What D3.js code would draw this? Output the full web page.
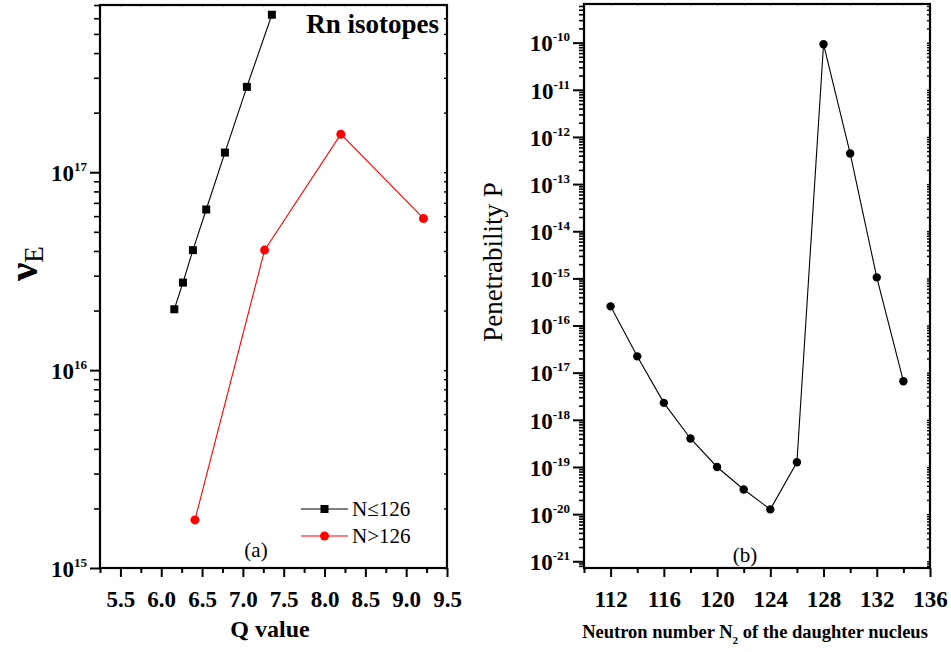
<!DOCTYPE html>
<html><head><meta charset="utf-8">
<script src="https://cdn.jsdelivr.net/npm/d3@7"></script>
<style>
html,body{margin:0;padding:0;background:#fff;}
svg text{font-family:"Liberation Serif","Times New Roman",serif !important;}
</style></head>
<body>
<svg id="chart" width="951" height="652"></svg>
<script>
// ---- Panel (a) data ----
const qLow = [6.16, 6.266, 6.388, 6.551, 6.78, 7.049, 7.355];
const vLow = [2.03e16, 2.77e16, 4.04e16, 6.48e16, 1.257e17, 2.70e17, 6.25e17];
const qHigh = [6.413, 7.266, 8.2, 9.212];
const vHigh = [1.75e15, 4.04e16, 1.556e17, 5.84e16];
const qTicks = [5.5, 6.0, 6.5, 7.0, 7.5, 8.0, 8.5, 9.0, 9.5];
const qMinor = [5.25, 5.75, 6.25, 6.75, 7.25, 7.75, 8.25, 8.75, 9.25];
const vExps = [15, 16, 17];
const legendLabels = ["N\u2264126", "N>126"];

// ---- Panel (b) data ----
const nNeutron = [112, 114, 116, 118, 120, 122, 124, 126, 128, 130, 132, 134];
const pen = [2.55e-16, 2.22e-17, 2.29e-18, 4.02e-19, 1.0e-19, 3.33e-20, 1.26e-20, 1.26e-19, 9.25e-11, 4.47e-13, 1.05e-15, 6.6e-18];
const nTicks = [112, 116, 120, 124, 128, 132, 136];
const nMinor = [110, 114, 118, 122, 126, 130, 134];
const pExps = [-21, -20, -19, -18, -17, -16, -15, -14, -13, -12, -11, -10];

const svg = d3.select("#chart");
const SERIF = '"Liberation Serif","Times New Roman",serif';

function logMinors(domain) {
  const out = [];
  const lo = Math.floor(Math.log10(domain[0])), hi = Math.ceil(Math.log10(domain[1]));
  for (let e = lo; e <= hi; e++) for (let m = 2; m <= 9; m++) {
    const v = m * Math.pow(10, e);
    if (v >= domain[0] && v <= domain[1]) out.push(v);
  }
  return out;
}

function drawPanel(cfg) {
  const g = svg.append("g");
  const x = cfg.x, y = cfg.y;
  const [x0, x1] = x.range(), [y0, y1] = y.range();
  g.append("g").attr("transform", `translate(${x0},0)`)
    .call(d3.axisLeft(y).tickValues(logMinors(y.domain())).tickSize(cfg.yMinorLen).tickFormat(""))
    .call(a => a.select(".domain").remove())
    .selectAll("line").attr("stroke-width", 1.6);
  const yMaj = g.append("g").attr("transform", `translate(${x0},0)`)
    .call(d3.axisLeft(y).tickValues(cfg.yExps.map(e => Math.pow(10, e))).tickSize(cfg.yMajorLen).tickFormat(""))
    .call(a => a.select(".domain").remove());
  yMaj.selectAll("line").attr("stroke-width", 2);
  cfg.yExps.forEach(e => {
    const t = g.append("text")
      .attr("x", x0 - cfg.yMajorLen - 3).attr("y", y(Math.pow(10, e)))
      .attr("dy", "0.38em").attr("text-anchor", "end")
      .style("font-family", SERIF)
      .attr("font-weight", "bold").attr("font-size", 23);
    t.append("tspan").text("10");
    t.append("tspan").attr("font-size", 13).attr("dy", -10).text(String(e));
  });
  g.append("g").attr("transform", `translate(${x1},0)`)
    .call(d3.axisRight(y).tickValues(logMinors(y.domain()).concat(cfg.yExps.map(e => Math.pow(10, e)))).tickSize(-3).tickFormat(""))
    .call(a => a.select(".domain").remove())
    .selectAll("line").attr("stroke-width", 1.4);
  g.append("g").attr("transform", `translate(0,${y1})`)
    .call(d3.axisTop(x).tickValues(cfg.xTicks.concat(cfg.xMinor)).tickSize(-2).tickFormat(""))
    .call(a => a.select(".domain").remove())
    .selectAll("line").attr("stroke", "#aaa");
  g.append("g").attr("transform", `translate(0,${y0})`)
    .call(d3.axisBottom(x).tickValues(cfg.xMinor).tickSize(5).tickFormat(""))
    .call(a => a.select(".domain").remove())
    .selectAll("line").attr("stroke-width", 2);
  const xb = g.append("g").attr("transform", `translate(0,${y0})`)
    .call(d3.axisBottom(x).tickValues(cfg.xTicks).tickSize(9).tickPadding(14).tickFormat(cfg.xFmt))
    .call(a => a.select(".domain").remove());
  xb.selectAll("line").attr("stroke-width", 2);
  xb.selectAll("text").style("font-family", SERIF)
    .attr("font-weight", "bold").attr("font-size", cfg.xFont).attr("fill", "#000");
  g.append("rect").attr("x", x0).attr("y", y1).attr("width", x1 - x0).attr("height", y0 - y1)
    .attr("fill", "none").attr("stroke", "#000").attr("stroke-width", 2.2);
  return g;
}

// ===== Panel (a) =====
const xa = d3.scaleLinear().domain([5.25, 9.5]).range([100, 447]);
const ya = d3.scaleLog().domain([1e15, 7e17]).range([568, 5]);
const ga = drawPanel({x: xa, y: ya, yExps: vExps, xTicks: qTicks, xMinor: qMinor,
  xFmt: d3.format(".1f"), yMajorLen: 10, yMinorLen: 6, xFont: 23});

const lineA = d3.line().x(d => xa(d[0])).y(d => ya(d[1]));
const lowPts = qLow.map((q, i) => [q, vLow[i]]);
const highPts = qHigh.map((q, i) => [q, vHigh[i]]);
ga.append("path").attr("d", lineA(lowPts)).attr("fill", "none").attr("stroke", "#000").attr("stroke-width", 1.1);
ga.selectAll(".sq").data(lowPts).enter().append("rect")
  .attr("x", d => xa(d[0]) - 4).attr("y", d => ya(d[1]) - 4).attr("width", 8).attr("height", 8).attr("fill", "#000");
ga.append("path").attr("d", lineA(highPts)).attr("fill", "none").attr("stroke", "#f00").attr("stroke-width", 1.1);
ga.selectAll(".rc").data(highPts).enter().append("circle")
  .attr("cx", d => xa(d[0])).attr("cy", d => ya(d[1])).attr("r", 4.5).attr("fill", "#f00");

ga.append("text").attr("x", 439).attr("y", 33).attr("text-anchor", "end")
  .attr("font-weight", "bold").attr("font-size", 27).text("Rn isotopes");

const legY = [509, 536];
const legCol = ["#000", "#f00"];
legendLabels.forEach((lab, i) => {
  ga.append("line").attr("x1", 301).attr("x2", 348).attr("y1", legY[i]).attr("y2", legY[i])
    .attr("stroke", legCol[i]).attr("stroke-width", 1.1);
  if (i === 0) ga.append("rect").attr("x", 320.5).attr("y", legY[i] - 4).attr("width", 8).attr("height", 8).attr("fill", "#000");
  else ga.append("circle").attr("cx", 324.5).attr("cy", legY[i]).attr("r", 4.5).attr("fill", "#f00");
  ga.append("text").attr("x", 352).attr("y", legY[i] + 7).attr("font-size", 21).text(lab);
});
ga.append("text").attr("x", 256).attr("y", 557).attr("text-anchor", "middle").attr("font-size", 21).text("(a)");

ga.append("text").attr("x", 270).attr("y", 637).attr("text-anchor", "middle")
  .attr("font-weight", "bold").attr("font-size", 24).text("Q value");

const yl = ga.append("text").attr("transform", "translate(37,281) rotate(-90)")
  .attr("font-size", 41).attr("font-weight", "bold");
yl.append("tspan").text("\u03bd");
yl.append("tspan").attr("font-size", 27).attr("font-weight", "normal").attr("dy", 6).text("E");

// ===== Panel (b) =====
const xb = d3.scaleLinear().domain([110, 136]).range([584, 930]);
const yb = d3.scaleLog().domain([7.2e-22, 6.6e-10]).range([568, 4]);
const gb = drawPanel({x: xb, y: yb, yExps: pExps, xTicks: nTicks, xMinor: nMinor,
  xFmt: d3.format("d"), yMajorLen: 11, yMinorLen: 5, xFont: 23});

const pPts = nNeutron.map((n, i) => [n, pen[i]]);
const lineB = d3.line().x(d => xb(d[0])).y(d => yb(d[1]));
gb.append("path").attr("d", lineB(pPts)).attr("fill", "none").attr("stroke", "#000").attr("stroke-width", 1.1);
gb.selectAll(".bc").data(pPts).enter().append("circle")
  .attr("cx", d => xb(d[0])).attr("cy", d => yb(d[1])).attr("r", 4.2).attr("fill", "#000");

gb.append("text").attr("x", 745).attr("y", 562).attr("text-anchor", "middle").attr("font-size", 21).text("(b)");

gb.append("text").attr("transform", "translate(502,262) rotate(-90)").attr("text-anchor", "middle")
  .attr("font-size", 27).text("Penetrability P");

const xl = gb.append("text").attr("x", 755).attr("y", 638).attr("text-anchor", "middle")
  .attr("font-weight", "bold").attr("font-size", 18.5);
xl.append("tspan").text("Neutron number N");
xl.append("tspan").attr("font-size", 11).attr("dy", 6).text("2");
xl.append("tspan").attr("dy", -6).text(" of the daughter nucleus");
</script>
</body></html>
